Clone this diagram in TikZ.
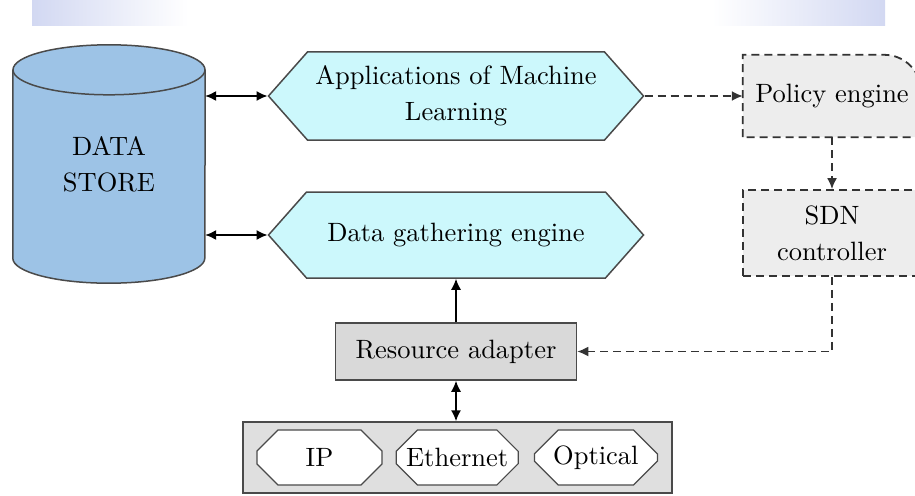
\documentclass[tikz,border=0pt]{standalone}
\usepackage{fontspec}
\setmainfont{lmroman10-regular.otf}
\usetikzlibrary{positioning,arrows.meta,backgrounds,shapes.symbols,shapes.misc}
\definecolor{storeBlue}{HTML}{9DC3E6}
\definecolor{engineCyan}{HTML}{CCF8FC}
\definecolor{edgeGray}{HTML}{4A4A4A}
\definecolor{dashGray}{HTML}{333333}
\definecolor{ctrlGray}{HTML}{EDEDED}
\definecolor{bandBlue}{HTML}{D2D8F2}
\tikzset{
  store/.style={rectangle, align=center, minimum width=192pt, minimum height=188pt},
  storeLine/.style={draw=edgeGray, line width=1.5pt},
  engine/.style={signal, signal to=east and west, signal pointer angle=97, draw=edgeGray, line width=1.5pt, fill=engineCyan, minimum width=375pt, align=center},
  adapter/.style={rectangle, draw=edgeGray, line width=1.5pt, fill=gray!30, minimum width=241pt, minimum height=57pt},
  layerBox/.style={rectangle, draw=edgeGray, line width=1.5pt, fill=gray!25, minimum width=429pt, minimum height=71pt},
  tech/.style={chamfered rectangle, chamfered rectangle xsep=12pt, chamfered rectangle ysep=12pt, draw=edgeGray, line width=1.2pt, fill=white, minimum height=55pt, inner sep=0pt},
  ctrlBox/.style={rectangle, align=center, minimum width=178pt},
  ctrlLine/.style={draw=dashGray, line width=1.8pt, dash pattern=on 8pt off 5pt},
  dataOp/.style={{Latex[length=11pt,width=10pt]}-{Latex[length=11pt,width=10pt]}, line width=1.5pt},
  upOp/.style={-{Latex[length=11pt,width=10pt]}, line width=1.5pt},
  ctrlOp/.style={-{Latex[length=11pt,width=10pt]}, line width=1.8pt, dash pattern=on 8pt off 5pt, draw=dashGray}
}

\begin{document}
\begin{tikzpicture}[x=1pt, y=-1pt, font={\fontsize{26.5}{36}\selectfont}, text=black]
  \useasboundingbox (0,0) rectangle (915,495);

  % page residue at the top
  \shade[left color=bandBlue, right color=white] (32,0) rectangle (188,26);
  \shade[left color=white, right color=bandBlue] (712,0) rectangle (885,26);

  \node[store] (store) at (109,164) {DATA\\STORE};

  \node[engine, minimum height=88pt] (mlApps) at (456,96) {Applications of Machine\\Learning};
  \node[engine, minimum height=86pt] (gatherEngine) at (456,235) {Data gathering engine};

  \node[adapter] (resAdapter) at (456,351.5) {Resource adapter};

  \node[layerBox] (layers) at (457.5,457.5) {};
  \node[tech, minimum width=125pt] (ipLayer) at (319.5,457.5) {IP};
  \node[tech, minimum width=122pt, right=13pt of ipLayer] (ethLayer) {Ethernet};
  \node[tech, minimum width=123pt, right=15pt of ethLayer] (optLayer) {Optical};

  \node[ctrlBox, minimum height=82pt] (policyEngine) at (832,96) {Policy engine};
  \node[ctrlBox, minimum height=86pt, fill=ctrlGray, ctrlLine] (sdnCtrl) at (832,233) {SDN\\controller};

  \begin{pgfonlayer}{background}
    % cylinder round the store
    \fill[storeBlue] (store.north west) -- (store.south west)
      arc[start angle=180, end angle=360, x radius=96pt, y radius=25pt]
      -- (store.north east) arc[start angle=0, end angle=180, x radius=96pt, y radius=25pt] -- cycle;
    \draw[storeLine] (store.north west) -- (store.south west)
      arc[start angle=180, end angle=360, x radius=96pt, y radius=25pt] -- (store.north east);
    \draw[storeLine] (store.north) ellipse[x radius=96pt, y radius=25pt];
    % policy engine, one round corner
    \draw[ctrlLine, fill=ctrlGray] (policyEngine.south west) -- (policyEngine.north west)
      -- ([xshift=-37pt]policyEngine.north east) arc[start angle=90, end angle=0, radius=37pt]
      -- (policyEngine.south east) -- cycle;
  \end{pgfonlayer}

  \draw[dataOp] (mlApps.west -| store.east) -- (mlApps.west);
  \draw[dataOp] (gatherEngine.west -| store.east) -- (gatherEngine.west);
  \draw[upOp] (resAdapter.north) -- (gatherEngine.south);
  \draw[dataOp] (resAdapter.south) -- (resAdapter.south |- layers.north);

  \draw[ctrlOp] (mlApps.east) -- (policyEngine.west);
  \draw[ctrlOp] (policyEngine.south) -- (sdnCtrl.north);
  \draw[ctrlOp] (sdnCtrl.south) |- (resAdapter.east);
\end{tikzpicture}
\end{document}
